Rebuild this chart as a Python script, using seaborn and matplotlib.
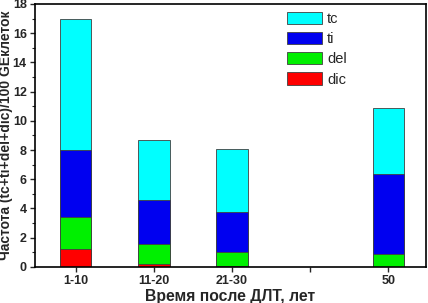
import numpy as np
import pandas as pd
import matplotlib
matplotlib.use("Agg")
import matplotlib.pyplot as plt
from matplotlib.patches import Patch
from matplotlib.ticker import MultipleLocator
import seaborn as sns

categories = ['1-10', '11-20', '21-30', '50']
order = ['1-10', '11-20', '21-30', '', '50']
dic = [1.2, 0.22, 0.05, 0.0]
dele = [2.25, 1.33, 0.98, 0.9]
ti = [4.55, 3.05, 2.73, 5.45]
tc = [9.0, 4.1, 4.29, 4.55]

series_names = ['tc', 'ti', 'del', 'dic']
colors = {'tc': '#00FFFF', 'ti': '#0000F0', 'del': '#00F000', 'dic': '#FF0000'}

df = pd.DataFrame({'cat': categories, 'dic': dic, 'del': dele, 'ti': ti, 'tc': tc})
df['dic_top'] = df['dic']
df['del_top'] = df['dic_top'] + df['del']
df['ti_top'] = df['del_top'] + df['ti']
df['tc_top'] = df['ti_top'] + df['tc']

sns.set_style('ticks')
plt.rcParams['font.family'] = ['Liberation Sans', 'DejaVu Sans']

fig = plt.figure(figsize=(4.28, 3.03), dpi=100)
ax = fig.add_axes([0.082, 0.119, 0.913, 0.868])

for name in series_names:
    sns.barplot(data=df, x='cat', y=name + '_top', order=order, color=colors[name],
                saturation=1, width=0.4, edgecolor='#404040', linewidth=0.6, ax=ax)

ax.set_ylim(0, 18)
ax.set_xlim(-0.52, 4.48)
ax.yaxis.set_major_locator(MultipleLocator(2))
ax.yaxis.set_minor_locator(MultipleLocator(1))
for s in ax.spines.values():
    s.set_visible(True)
    s.set_linewidth(1.2)
    s.set_color('black')
ax.tick_params(axis='both', which='major', direction='out', length=3.5, width=1,
               labelsize=9, top=False, right=False, pad=2.5)
ax.tick_params(axis='y', which='minor', direction='out', length=2, width=0.8, right=False)
for lbl in ax.get_xticklabels() + ax.get_yticklabels():
    lbl.set_fontweight('bold')

ax.set_xlabel('Время после ДЛТ, лет', fontsize=11.3, fontweight='bold', labelpad=1.5)
ax.set_ylabel('Частота (tc+ti+del+dic)/100 GEклеток', fontsize=10, fontweight='bold')
ax.yaxis.set_label_coords(-0.056, 0.5)

handles = [Patch(facecolor=colors[n], edgecolor='#404040', linewidth=0.6, label=n) for n in series_names]
ax.legend(handles=handles, loc='upper left', bbox_to_anchor=(0.645, 0.97), frameon=False,
          fontsize=10.5, handlelength=2.4, handleheight=0.9, labelspacing=0.42,
          handletextpad=0.35, borderpad=0, borderaxespad=0)

fig.savefig('out.png', dpi=100)
